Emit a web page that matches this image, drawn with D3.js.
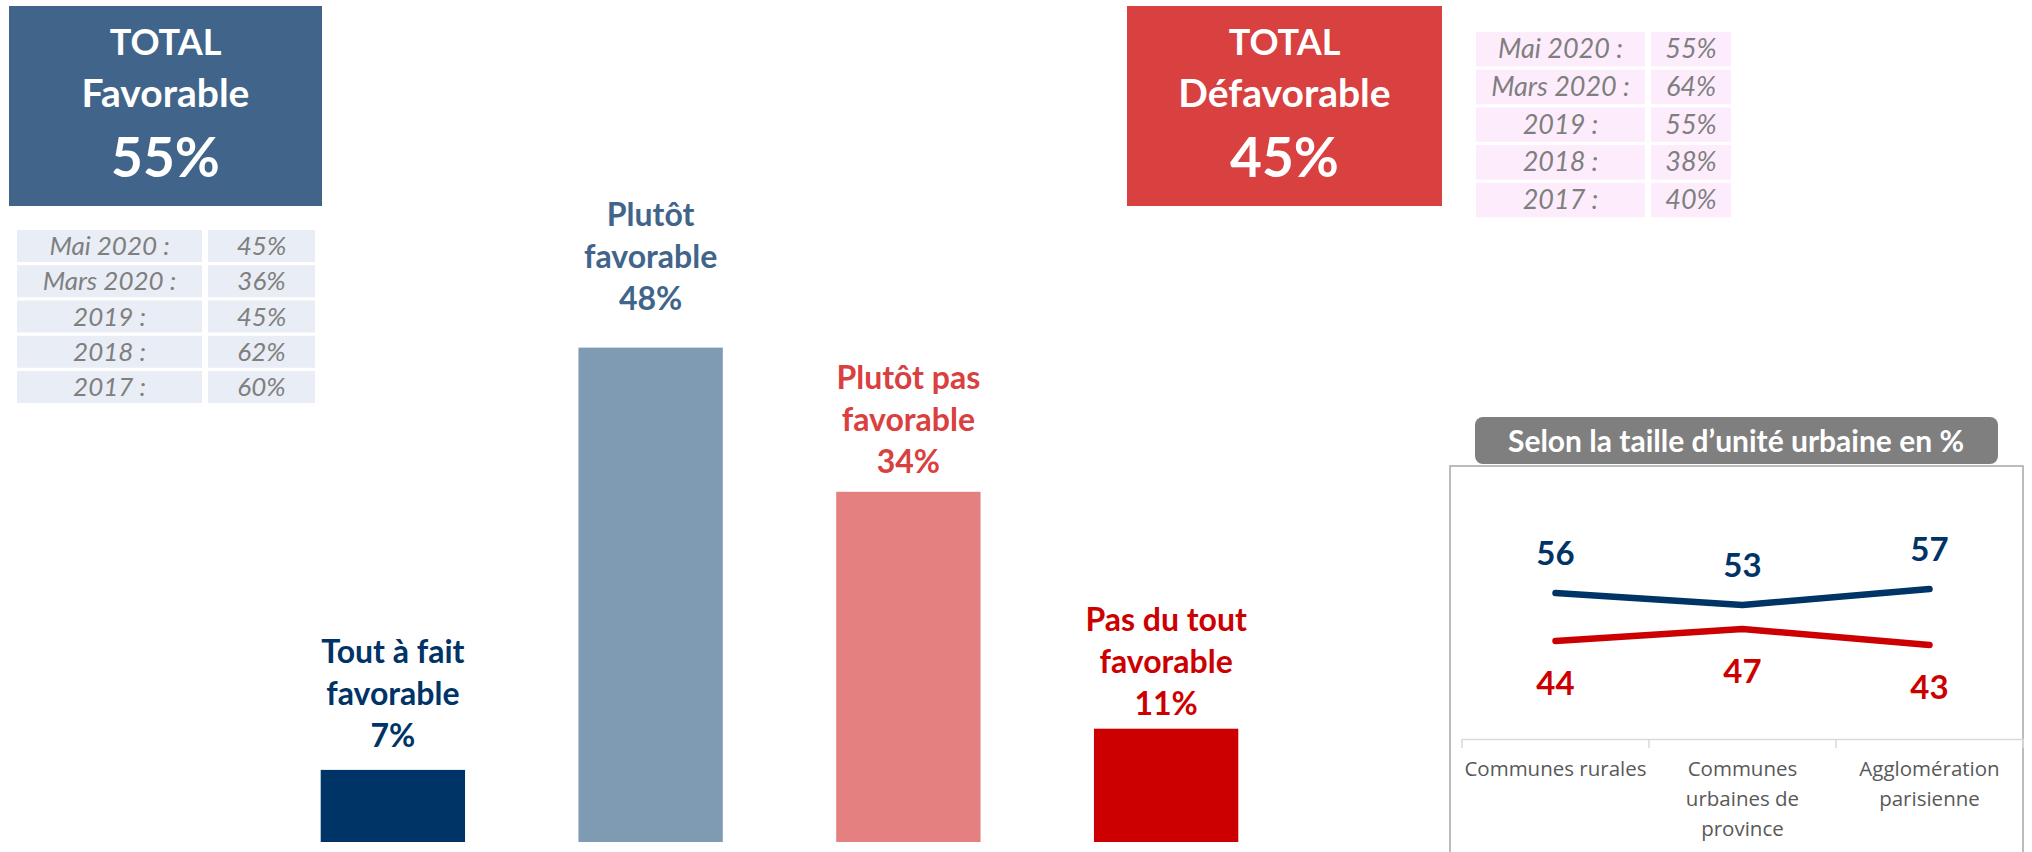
<!DOCTYPE html>
<html>
<head>
<meta charset="utf-8">
<script src="https://cdn.jsdelivr.net/npm/d3@7"></script>
<style>
  html, body { margin: 0; padding: 0; background: #ffffff; }
  svg { display: block; }
  text { font-family: Lato, "Open Sans", sans-serif; }
  text.cat { font-family: "Open Sans", sans-serif; }
</style>
</head>
<body>
<svg id="chart" width="2032" height="852"></svg>
<script>
// ---- Data ----
const answerCategories = ["Tout à fait favorable", "Plutôt favorable", "Plutôt pas favorable", "Pas du tout favorable"];
const answerLabelLines = [["Tout à fait", "favorable"], ["Plutôt", "favorable"], ["Plutôt pas", "favorable"], ["Pas du tout", "favorable"]];
const answerValues = [7, 48, 34, 11];

const totalFavorable = 55;
const totalDefavorable = 45;

const historyPeriods = ["Mai 2020 :", "Mars 2020 :", "2019 :", "2018 :", "2017 :"];
const favorableHistory = [45, 36, 45, 62, 60];
const defavorableHistory = [55, 64, 55, 38, 40];

const urbanCategories = [["Communes rurales"], ["Communes", "urbaines de", "province"], ["Agglomération", "parisienne"]];
const urbanFavorable = [56, 53, 57];
const urbanDefavorable = [44, 47, 43];

// ---- Styles ----
const barColors = ["#003366", "#7F9BB4", "#E48080", "#CC0000"];
const labelColors = ["#003366", "#41658A", "#D94040", "#CC0000"];
const labelLift = [23, 38, 19, 14]; // gap between label block and bar top
const blueBox = "#41658A", redBox = "#D94040";

const svg = d3.select("#chart");

// ---- Total boxes ----
function totalBox(x0, x1, fill, word, pct) {
  const g = svg.append("g");
  g.append("rect").attr("x", x0).attr("y", 6).attr("width", x1 - x0).attr("height", 200).attr("fill", fill);
  const cx = (x0 + x1) / 2;
  g.append("text").attr("x", cx).attr("y", 55).attr("text-anchor", "middle")
    .attr("fill", "#fff").attr("font-weight", 700).attr("font-size", 36).text("TOTAL");
  g.append("text").attr("x", cx).attr("y", 107).attr("text-anchor", "middle")
    .attr("fill", "#fff").attr("font-weight", 700).attr("font-size", 39).text(word);
  g.append("text").attr("x", cx).attr("y", 177).attr("text-anchor", "middle")
    .attr("fill", "#fff").attr("font-weight", 700).attr("font-size", 55).text(pct + "%");
}
totalBox(9, 322, blueBox, "Favorable", totalFavorable);
totalBox(1127, 1442, redBox, "Défavorable", totalDefavorable);

// ---- History tables ----
function historyTable(cols, top, pitch, rowH, fill, values, size) {
  const g = svg.append("g");
  const rows = g.selectAll("g.row").data(historyPeriods).join("g")
    .attr("transform", (d, i) => `translate(0,${top + i * pitch})`);
  rows.append("rect").attr("x", cols[0][0]).attr("width", cols[0][1] - cols[0][0])
    .attr("height", rowH).attr("fill", fill);
  rows.append("rect").attr("x", cols[1][0]).attr("width", cols[1][1] - cols[1][0])
    .attr("height", rowH).attr("fill", fill);
  rows.append("text").attr("x", (cols[0][0] + cols[0][1]) / 2).attr("y", rowH / 2 + 9)
    .attr("text-anchor", "middle").attr("font-style", "italic").attr("font-size", size)
    .attr("fill", "#7F7F7F").text(d => d);
  rows.append("text").attr("x", (cols[1][0] + cols[1][1]) / 2).attr("y", rowH / 2 + 9)
    .attr("text-anchor", "middle").attr("font-style", "italic").attr("font-size", size)
    .attr("fill", "#7F7F7F").text((d, i) => values[i] + "%");
}
historyTable([[17, 202], [208, 315]], 230, 35.25, 32, "#E9EDF5", favorableHistory, 26);
historyTable([[1476, 1645], [1651, 1731]], 32, 37.7, 34.5, "#FDEDFC", defavorableHistory, 27);

// ---- Bar chart ----
const x = d3.scaleBand().domain(answerCategories).range([264, 1295]).paddingInner(0.44).paddingOuter(0.22);
const y = d3.scaleLinear().domain([0, 50]).range([842, 327]);

const bars = svg.append("g");
bars.selectAll("rect").data(answerCategories).join("rect")
  .attr("x", d => x(d)).attr("width", x.bandwidth())
  .attr("y", (d, i) => y(answerValues[i]))
  .attr("height", (d, i) => y(0) - y(answerValues[i]))
  .attr("fill", (d, i) => barColors[i]);

const lineGap = 42;
answerCategories.forEach((c, i) => {
  const lines = answerLabelLines[i].concat([answerValues[i] + "%"]);
  const lastBase = y(answerValues[i]) - labelLift[i];
  const t = bars.append("text").attr("text-anchor", "middle")
    .attr("font-weight", 700).attr("font-size", 32).attr("fill", labelColors[i]);
  lines.forEach((ln, k) => {
    t.append("tspan").attr("x", x(c) + x.bandwidth() / 2)
      .attr("y", lastBase - (lines.length - 1 - k) * lineGap).text(ln);
  });
});

// ---- Urban unit panel ----
const panel = svg.append("g");
panel.append("rect").attr("x", 1450).attr("y", 466).attr("width", 573).attr("height", 400)
  .attr("fill", "#fff").attr("stroke", "#A6A6A6").attr("stroke-width", 1.5);
panel.append("rect").attr("x", 1475).attr("y", 417).attr("width", 523).attr("height", 47)
  .attr("rx", 8).attr("fill", "#7F7F7F");
panel.append("text").attr("x", 1736).attr("y", 452).attr("text-anchor", "middle")
  .attr("font-weight", 700).attr("font-size", 30).attr("fill", "#fff")
  .text("Selon la taille d’unité urbaine en %");

const ux = d3.scaleBand().domain(d3.range(urbanCategories.length)).range([1462, 2023]);
const uy = d3.scaleLinear().domain([20, 80]).range([737, 497]);

// category axis along the bottom
const axis = panel.append("g").attr("transform", "translate(0,739)")
  .call(d3.axisBottom(ux).tickSize(0).tickFormat(""));
axis.select(".domain").attr("stroke", "#D9D9D9").attr("stroke-width", 1.5);
axis.selectAll(".tick").remove();
panel.selectAll("line.sep").data(d3.range(urbanCategories.length + 1)).join("line")
  .attr("class", "sep")
  .attr("x1", i => 1462 + i * ux.step()).attr("x2", i => 1462 + i * ux.step())
  .attr("y1", 739).attr("y2", 748).attr("stroke", "#D9D9D9").attr("stroke-width", 1.5);

urbanCategories.forEach((lines, i) => {
  const t = panel.append("text").attr("class", "cat").attr("text-anchor", "middle")
    .attr("font-size", 20.5).attr("fill", "#595959");
  lines.forEach((ln, k) => {
    t.append("tspan").attr("x", ux(i) + ux.bandwidth() / 2).attr("y", 776 + k * 30).text(ln);
  });
});

const cx = i => ux(i) + ux.bandwidth() / 2;
const line = d3.line().x((d, i) => cx(i)).y(d => uy(d));
[[urbanFavorable, "#003366", -28], [urbanDefavorable, "#CC0000", 54]].forEach(([vals, col, off]) => {
  panel.append("path").datum(vals).attr("d", line).attr("fill", "none")
    .attr("stroke", col).attr("stroke-width", 6.5).attr("stroke-linecap", "round").attr("stroke-linejoin", "round");
  panel.selectAll(null).data(vals).join("text")
    .attr("x", (d, i) => cx(i)).attr("y", d => uy(d) + off)
    .attr("text-anchor", "middle").attr("font-weight", 700).attr("font-size", 33)
    .attr("fill", col).text(d => d);
});
</script>
</body>
</html>
